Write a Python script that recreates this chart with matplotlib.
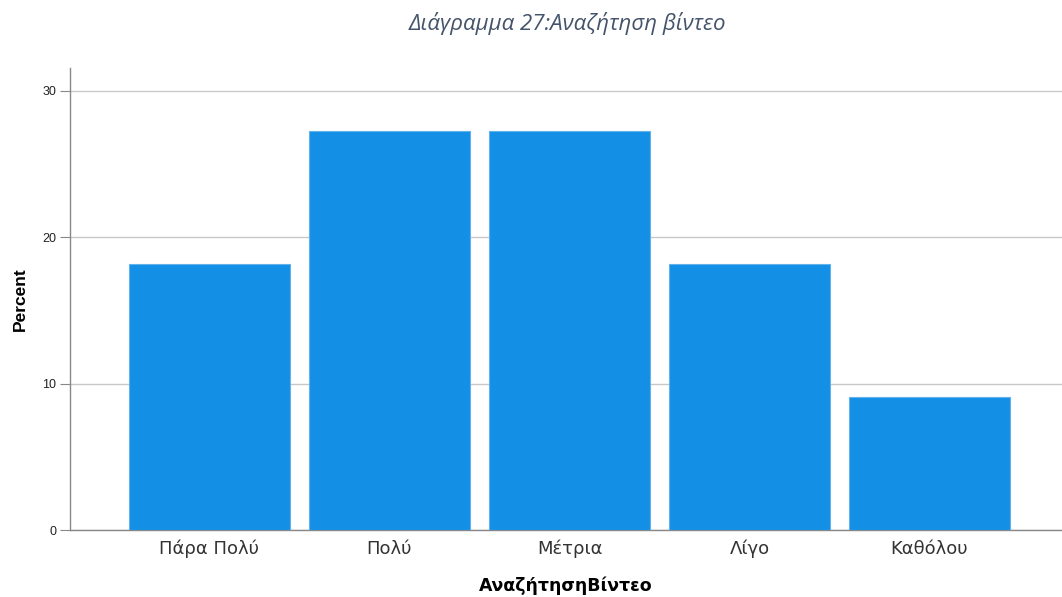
import matplotlib.pyplot as plt

# Data (percent of respondents)
categories = ["Πάρα Πολύ", "Πολύ", "Μέτρια", "Λίγο", "Καθόλου"]
percents = [18.18, 27.27, 27.27, 18.18, 9.09]
yticks = [0, 10, 20, 30]

plt.rcParams['font.family'] = ['Liberation Sans', 'DejaVu Sans']

fig = plt.figure(figsize=(10.62, 5.97), dpi=100)
ax = fig.add_axes([0.0659, 0.1122, 0.9341, 0.774])

x = list(range(len(categories)))
ax.bar(x, percents, width=0.894, color='#1390E6', edgecolor='#62B2EC',
       linewidth=0.8, zorder=3)

ax.set_xlim(-0.775, 4.736)
ax.set_ylim(0, 31.57)
ax.set_yticks(yticks)
ax.set_yticklabels([str(v) for v in yticks], fontsize=9, color='#222222')
ax.set_xticks(x)
ax.set_xticklabels(categories, fontsize=13, color='#333333',
                   family=['DejaVu Sans'])
ax.tick_params(axis='x', length=0, pad=7)
ax.tick_params(axis='y', length=7, width=0.8, color='#888888', pad=3)

ax.grid(axis='y', color='#C8C8C8', linewidth=1.0, zorder=0)
for s in ['top', 'right']:
    ax.spines[s].set_visible(False)
for s in ['left', 'bottom']:
    ax.spines[s].set_color('#888888')
    ax.spines[s].set_linewidth(1.0)

ax.set_ylabel("Percent", fontsize=12.5, fontweight='bold', labelpad=10)
ax.set_xlabel("ΑναζήτησηΒίντεο", fontsize=12.5, fontweight='bold', labelpad=13,
              family=['DejaVu Sans'])

fig.text(0.534, 0.96, "Διάγραμμα 27:Αναζήτηση βίντεο", ha='center', va='center',
         fontsize=16, style='italic', color='#44546A',
         family=['Open Sans', 'DejaVu Sans'])

fig.savefig("out.png", dpi=100)
